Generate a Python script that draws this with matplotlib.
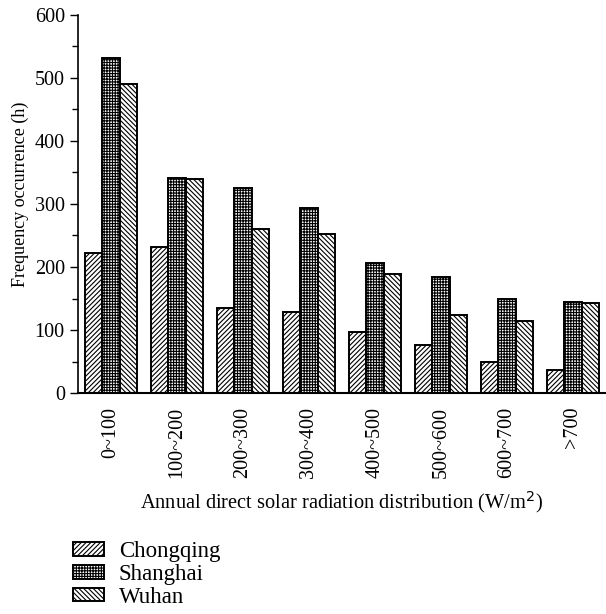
import matplotlib
matplotlib.use("Agg")
import matplotlib.pyplot as plt
import numpy as np
from matplotlib.ticker import MultipleLocator

categories = ["0~100", "100~200", "200~300", "300~400", "400~500", "500~600", "600~700", ">700"]
chongqing = [222, 231, 135, 128, 97, 76, 49, 36]
shanghai = [532, 341, 326, 294, 206, 184, 150, 145]
wuhan = [491, 339, 260, 253, 189, 124, 115, 143]
series_names = ["Chongqing", "Shanghai", "Wuhan"]

plt.rcParams['font.family'] = ['Liberation Serif', 'DejaVu Serif']
plt.rcParams['hatch.linewidth'] = 0.8
plt.rcParams['font.size'] = 14.5

fig = plt.figure(figsize=(6.06, 6.14), dpi=100)
W, H = 606, 614
ax = fig.add_axes([78 / W, 1 - 393 / H, (606 - 78) / W, (393 - 15) / H])

x = np.arange(len(categories))
bw = 0.265
hatches = ['///////', '++++++', '\\\\\\\\\\\\\\']
handles = []
for i, (vals, name) in enumerate(zip([chongqing, shanghai, wuhan], series_names)):
    b = ax.bar(x + (i - 1) * bw, vals, bw, facecolor='white', edgecolor='black',
               hatch=hatches[i], linewidth=1.4, label=name)
    handles.append(b)

ax.set_xlim(-0.5, 7.5)
ax.set_ylim(0, 600)
ax.yaxis.set_major_locator(MultipleLocator(100))
ax.yaxis.set_minor_locator(MultipleLocator(50))
ax.tick_params(axis='y', which='major', direction='out', length=6, width=1, labelsize=14.5)
ax.tick_params(axis='y', which='minor', direction='out', length=4, width=1)
ax.set_xticks(x)
ax.set_xticklabels(categories, rotation=90)
ax.tick_params(axis='x', length=0, pad=10, labelsize=14.5)
for s in ['top', 'right']:
    ax.spines[s].set_visible(False)
ax.spines['left'].set_linewidth(1.2)
ax.spines['bottom'].set_linewidth(1.5)

ax.set_ylabel("Frequency occurrence (h)", fontsize=13)
ax.yaxis.set_label_coords(-0.093, 0.526)
ax.set_xlabel("Annual direct solar radiation distribution (W/m$^2$)", fontsize=14.7, labelpad=8)

fig.legend(handles=handles, labels=series_names, loc='upper left',
           bbox_to_anchor=(66 / W, 1 - 534 / H), frameon=False, fontsize=16.5,
           handlelength=1.35, handleheight=0.55, labelspacing=0.08, handletextpad=0.65,
           borderaxespad=0, borderpad=0.3)

fig.savefig("out.png", dpi=100)
